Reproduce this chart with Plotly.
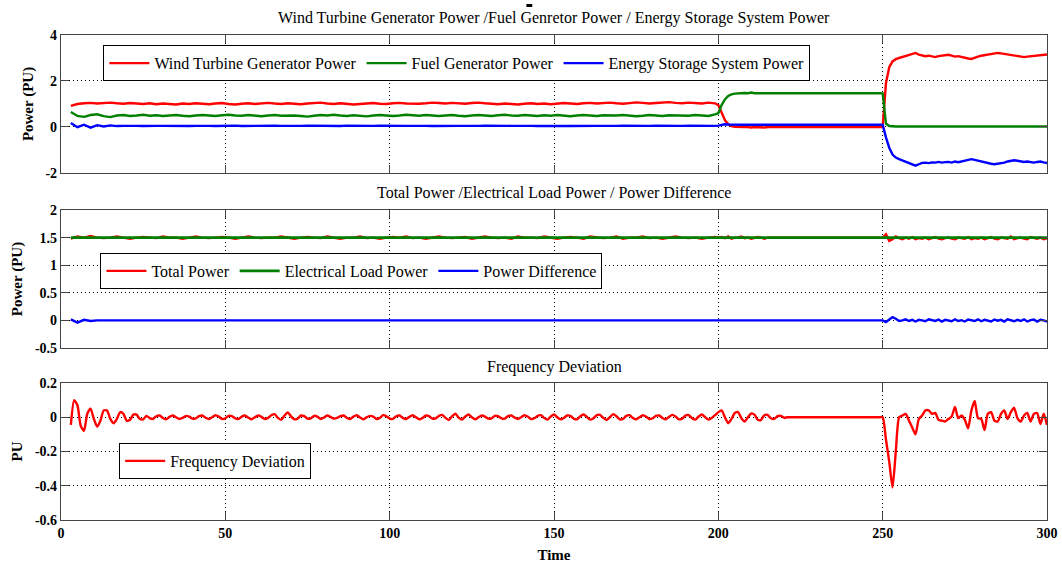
import plotly.graph_objects as go

# ---------------- data ----------------
time_power = list(range(3, 200, 2)) + list(range(200, 301))   # 99 + 101 samples
time_freq = list(range(3, 301))                                 # 298 samples

wind_a = [0.92, 1.0, 1.03, 1.05, 1.02, 1.04, 1.06, 1.03, 1.01, 1.04,
          1.02, 1.0, 1.03, 0.99, 1.02, 1.01, 0.98, 1.02, 1.0, 1.03,
          1.01, 0.99, 1.02, 1.04, 1.0, 0.98, 1.01, 1.03, 1.0, 1.02,
          1.05, 1.02, 1.0, 1.03, 1.01, 0.99, 1.02, 1.04, 1.06, 1.02,
          1.0, 1.03, 1.01, 0.98, 1.0, 1.02, 1.04, 1.01, 1.0, 1.03,
          1.05, 1.02, 1.0, 1.01, 1.03, 1.06, 1.04, 1.02, 1.05, 1.03,
          1.01, 1.04, 1.06, 1.03, 1.0, 0.99, 1.02, 1.0, 0.98, 1.01,
          1.03, 1.0, 1.02, 0.99, 1.01, 1.04, 1.02, 1.0, 1.03, 1.05,
          1.02, 1.04, 1.06, 1.03, 1.01, 1.04, 1.07, 1.05, 1.02, 1.04,
          1.06, 1.08, 1.05, 1.03, 1.06, 1.04, 1.02, 1.06, 1.03]
wind_b = ([0.95, 0.6, 0.3, 0.12, 0.04, 0.01]
          + [0.0, -0.02, 0.0, 0.0, -0.02, 0.0, -0.01, 0.0, -0.02, 0.0,
             0.0, -0.02, 0.0, 0.0, -0.02, 0.0, -0.01, 0.0, -0.02, 0.0]
          + [0.0] * 25)
wind_c = [1.9, 2.6, 2.85, 2.95, 3.0, 3.05, 3.1, 3.15, 3.2, 3.22,
          3.15, 3.12, 3.08, 3.1, 3.06, 3.04, 3.08, 3.1, 3.12, 3.14,
          3.1, 3.06, 3.08, 3.04, 3.0, 2.98, 2.96, 3.02, 3.06, 3.1,
          3.12, 3.16, 3.18, 3.2, 3.22, 3.2, 3.18, 3.16, 3.12, 3.1,
          3.08, 3.06, 3.04, 3.06, 3.08, 3.1, 3.12, 3.14, 3.16, 3.15]
wind_power = wind_a + wind_b + wind_c

fuel_a = [0.65, 0.48, 0.44, 0.52, 0.55, 0.47, 0.43, 0.5, 0.52, 0.48,
          0.5, 0.53, 0.49, 0.51, 0.48, 0.5, 0.52, 0.49, 0.47, 0.5,
          0.52, 0.5, 0.48, 0.51, 0.53, 0.5, 0.49, 0.52, 0.5, 0.47,
          0.5, 0.52, 0.49, 0.51, 0.5, 0.48, 0.45, 0.49, 0.52, 0.5,
          0.53, 0.5, 0.48, 0.51, 0.49, 0.46, 0.5, 0.52, 0.5, 0.48,
          0.5, 0.53, 0.51, 0.49, 0.52, 0.5, 0.48, 0.5, 0.52, 0.49,
          0.47, 0.5, 0.52, 0.5, 0.48, 0.51, 0.53, 0.5, 0.49, 0.52,
          0.5, 0.48, 0.51, 0.49, 0.52, 0.5, 0.47, 0.5, 0.52, 0.5,
          0.48, 0.51, 0.49, 0.5, 0.52, 0.5, 0.47, 0.49, 0.52, 0.5,
          0.48, 0.51, 0.5, 0.47, 0.49, 0.52, 0.5, 0.48, 0.55]
fuel_b = ([0.6, 0.95, 1.2, 1.35, 1.42, 1.45, 1.47]
          + [1.47, 1.48, 1.47, 1.5, 1.47, 1.47, 1.48, 1.47, 1.5, 1.47,
             1.48, 1.47, 1.47, 1.5, 1.47, 1.48, 1.47, 1.47, 1.5, 1.47,
             1.47, 1.48, 1.5, 1.47, 1.47, 1.48, 1.47, 1.5, 1.47, 1.47,
             1.48, 1.47, 1.5, 1.47, 1.47, 1.48, 1.47, 1.5, 1.47, 1.47,
             1.48, 1.47, 1.47, 1.46])
fuel_c = [0.15, 0.04] + [0.02] * 48
fuel_power = fuel_a + fuel_b + fuel_c

ess_a = ([0.17, -0.01, 0.1, -0.03, 0.08, 0.02, 0.07, 0.04, 0.05, 0.06]
         + [0.05, 0.04, 0.06, 0.05, 0.05, 0.04, 0.06, 0.05, 0.04, 0.05,
            0.06, 0.05, 0.04, 0.05, 0.05, 0.06, 0.04, 0.05, 0.05, 0.04,
            0.05, 0.06, 0.05, 0.04, 0.05, 0.05, 0.06, 0.05, 0.04, 0.05,
            0.05, 0.04, 0.06, 0.05, 0.05, 0.04, 0.05, 0.06, 0.05, 0.05,
            0.04, 0.05, 0.05, 0.06, 0.05, 0.04, 0.05, 0.05, 0.06, 0.05,
            0.05, 0.04, 0.05, 0.06, 0.05, 0.05, 0.04, 0.05, 0.05, 0.06,
            0.05, 0.04, 0.05, 0.05, 0.06, 0.05, 0.04, 0.05, 0.05, 0.06,
            0.05, 0.05, 0.04, 0.05, 0.06, 0.05, 0.05, 0.04, 0.05, 0.06,
            0.05, 0.05, 0.04, 0.05, 0.06, 0.05, 0.05, 0.04, 0.05])
ess_b = [0.06, 0.09, 0.12, 0.11, 0.1] + [0.1] * 46
ess_c = [-0.45, -0.9, -1.2, -1.33, -1.4, -1.45, -1.5, -1.58, -1.63, -1.68,
         -1.62, -1.56, -1.55, -1.57, -1.54, -1.55, -1.52, -1.55, -1.53, -1.52,
         -1.55, -1.5, -1.53, -1.5, -1.46, -1.44, -1.4, -1.43, -1.47, -1.5,
         -1.53, -1.56, -1.6, -1.62, -1.6, -1.57, -1.55, -1.5, -1.48, -1.45,
         -1.47, -1.5, -1.52, -1.5, -1.53, -1.55, -1.52, -1.5, -1.54, -1.57]
ess_power = ess_a + ess_b + ess_c

total_a = [1.48, 1.52, 1.5, 1.53, 1.5, 1.49, 1.5, 1.52, 1.5, 1.48,
           1.5, 1.51, 1.5, 1.49, 1.52, 1.5, 1.5, 1.48, 1.5, 1.52,
           1.5, 1.49, 1.5, 1.51, 1.5, 1.48, 1.5, 1.52, 1.5, 1.49,
           1.5, 1.5, 1.52, 1.5, 1.48, 1.5, 1.51, 1.5, 1.49, 1.52,
           1.5, 1.48, 1.5, 1.5, 1.52, 1.49, 1.5, 1.48, 1.5, 1.51,
           1.5, 1.52, 1.49, 1.5, 1.48, 1.5, 1.52, 1.5, 1.49, 1.5,
           1.51, 1.48, 1.5, 1.52, 1.5, 1.49, 1.5, 1.48, 1.52, 1.5,
           1.5, 1.49, 1.52, 1.5, 1.48, 1.5, 1.51, 1.5, 1.48, 1.52,
           1.5, 1.49, 1.5, 1.52, 1.48, 1.5, 1.5, 1.52, 1.49, 1.5,
           1.48, 1.5, 1.52, 1.5, 1.49, 1.5, 1.48, 1.5, 1.51]
total_b = ([1.5, 1.51, 1.49, 1.52, 1.48, 1.5, 1.5, 1.52, 1.49, 1.5,
            1.48, 1.5, 1.51, 1.5, 1.48, 1.5] + [1.5] * 35)
total_c = [1.56, 1.44, 1.47, 1.52, 1.49, 1.47, 1.5, 1.48, 1.51, 1.47,
           1.49, 1.48, 1.5, 1.47, 1.49, 1.51, 1.48, 1.47, 1.49, 1.5,
           1.48, 1.47, 1.5, 1.49, 1.48, 1.51, 1.47, 1.49, 1.48, 1.5,
           1.47, 1.49, 1.51, 1.48, 1.47, 1.5, 1.49, 1.48, 1.52, 1.47,
           1.49, 1.5, 1.48, 1.47, 1.51, 1.49, 1.48, 1.5, 1.47, 1.49]
total_power = total_a + total_b + total_c

load_power = [1.5] * 200

diff_a = ([0.02, -0.04, 0.01, -0.01, 0.0]
          + [0.0, 0.004, -0.003, 0.0, 0.005, -0.004, 0.002, 0.0, -0.005, 0.003,
             0.0, -0.003, 0.004, 0.0, -0.004, 0.005, 0.0, -0.002, 0.003, -0.005,
             0.0, 0.004, -0.003, 0.002, 0.0, -0.004, 0.005, 0.0, -0.003, 0.003,
             0.0, -0.005, 0.004, 0.0, 0.002, -0.003, 0.0, 0.005, -0.004, 0.0,
             0.003, -0.002, 0.0, 0.004, -0.005, 0.0, 0.003, -0.003, 0.0, 0.005,
             -0.004, 0.0, 0.002, -0.003, 0.004, 0.0, -0.005, 0.003, 0.0, -0.002,
             0.004, 0.0, -0.004, 0.005, 0.0, -0.003, 0.002, 0.0, 0.004, -0.005,
             0.0, 0.003, -0.003, 0.0, 0.005, -0.004, 0.0, 0.002, -0.003, 0.004,
             0.0, -0.005, 0.003, 0.0, -0.002, 0.004, 0.0, -0.004, 0.005, 0.0,
             -0.003, 0.002, 0.0, 0.004])
diff_b = [0.003, -0.004, 0.0, 0.005, -0.003, 0.0, 0.004, -0.005, 0.0, 0.002] + [0.0] * 41
diff_c = [-0.03, 0.02, 0.06, 0.03, -0.01, 0.0, 0.02, -0.01, 0.01, -0.02,
          0.01, 0.0, -0.015, 0.02, 0.0, -0.01, 0.015, -0.02, 0.01, 0.0,
          -0.015, 0.02, -0.01, 0.005, -0.02, 0.015, 0.0, -0.01, 0.02, -0.015,
          0.01, 0.0, -0.02, 0.015, -0.005, 0.01, -0.02, 0.02, 0.0, -0.015,
          0.01, -0.01, 0.02, -0.02, 0.005, 0.015, -0.02, 0.01, 0.0, -0.02]
power_difference = diff_a + diff_b + diff_c

freq_a = [-0.045, 0.1, 0.07, -0.05, -0.08, 0.02, 0.05, -0.01, -0.055, -0.02,
          0.04, 0.04, -0.01, -0.035, -0.01, 0.03, 0.02, -0.02, -0.015, 0.015,
          0.015, -0.01, -0.012]
freq_b = [0.008, -0.005, -0.01, 0.006, 0.01, -0.004, -0.012, 0.002, 0.01, 0.0,
          -0.01, -0.004, 0.008, 0.004, -0.008, -0.006, 0.006, 0.01, -0.003, -0.01,
          0.0, 0.012, 0.004, -0.01, -0.006, 0.008, 0.006, -0.006, -0.01, 0.004,
          0.01, -0.002, -0.012, 0.0, 0.01, 0.002, -0.01, -0.004, 0.012, 0.018,
          -0.004, -0.015, 0.01, 0.028, 0.005, -0.012, -0.008, 0.01, 0.006, -0.008,
          -0.006, 0.008, 0.004, -0.01, -0.002, 0.01, 0.002, -0.008, -0.004, 0.006,
          0.01, -0.004, -0.01, 0.004, 0.012, -0.002, -0.012, 0.0, 0.008, 0.004,
          -0.01, -0.004, 0.012, 0.006, -0.008, -0.01, 0.006, 0.01, -0.004, -0.01,
          0.002, 0.012, 0.0, -0.012, -0.004, 0.01, 0.006, -0.008, -0.006, 0.008,
          0.014, -0.004, -0.016, 0.006, 0.02, -0.002, -0.014, 0.004, 0.016, 0.0,
          -0.012, 0.0, 0.01, 0.004, -0.008, -0.006, 0.008, 0.006, -0.006, -0.008,
          0.006, 0.01, -0.002, -0.01, 0.0, 0.012, 0.004, -0.01, -0.006, 0.008,
          0.012, -0.004, -0.014, 0.004, 0.016, 0.0, -0.012, -0.004, 0.01, 0.008,
          -0.008, -0.012, 0.006, 0.016, 0.002, -0.014, -0.006, 0.012, 0.014, -0.004,
          -0.016, 0.0, 0.018, 0.006, -0.012, -0.01, 0.008, 0.012, -0.004, -0.012,
          0.0, 0.012, 0.004, -0.01, -0.006, 0.008, 0.01, -0.004, -0.012, 0.002,
          0.014, 0.004, -0.012, -0.008, 0.01, 0.012, -0.006, -0.014, 0.004, 0.016,
          0.0, -0.014, -0.004, 0.012]
freq_c = [0.03, 0.04, 0.0, -0.035, -0.01, 0.025, 0.03, -0.005, -0.025, 0.0,
          0.022, 0.015, -0.015, -0.015, 0.012, 0.014, -0.006, -0.01, 0.006, 0.008,
          -0.003, 0.0]
freq_flat = [0.0] * 29
freq_d = [-0.13, -0.26, -0.41, -0.2, 0.0, 0.01, 0.02, -0.02, -0.06, -0.1,
          -0.01, 0.01, 0.04, 0.04, 0.02, 0.025, -0.015, -0.02, -0.025, -0.01,
          0.005, 0.06, -0.005, 0.01, -0.015, -0.065, 0.04, 0.095, -0.005, -0.01,
          -0.075, 0.02, 0.03, -0.02, -0.025, 0.02, 0.04, -0.01, 0.03, 0.055,
          -0.005, -0.025, 0.01, 0.025, -0.025, 0.02, 0.025, -0.04, 0.02, -0.045]
frequency_deviation = freq_a + freq_b + freq_c + freq_flat + freq_d

for s in (wind_power, fuel_power, ess_power, total_power, load_power, power_difference):
    assert len(s) == len(time_power), len(s)
assert len(frequency_deviation) == len(time_freq), len(frequency_deviation)

x_ticks = [0, 50, 100, 150, 200, 250, 300]
x_tick_labels = ["0", "50", "100", "150", "200", "250", "300"]
y1_ticks = [-2, 0, 2, 4]
y1_tick_labels = ["-2", "0", "2", "4"]
y2_ticks = [-0.5, 0, 0.5, 1, 1.5, 2]
y2_tick_labels = ["-0.5", "0", "0.5", "1", "1.5", "2"]
y3_ticks = [-0.6, -0.4, -0.2, 0, 0.2]
y3_tick_labels = ["-0.6", "-0.4", "-0.2", "0", "0.2"]

titles = ["Wind Turbine Generator Power /Fuel Genretor Power / Energy Storage System Power",
          "Total Power /Electrical Load Power / Power Difference",
          "Frequency Deviation"]

# ---------------- figure ----------------
SERIF = "Liberation Serif"
RED, GREEN, BLUE = "#ff0000", "#008000", "#0000ff"
LW = 2.4

fig = go.Figure()
fig.add_trace(go.Scatter(x=time_power, y=wind_power, name="Wind Turbine Generator Power",
                         line=dict(color=RED, width=LW), xaxis="x", yaxis="y", legend="legend"))
fig.add_trace(go.Scatter(x=time_power, y=fuel_power, name="Fuel Generator Power",
                         line=dict(color=GREEN, width=LW), xaxis="x", yaxis="y", legend="legend"))
fig.add_trace(go.Scatter(x=time_power, y=ess_power, name="Energy Storage System Power",
                         line=dict(color=BLUE, width=LW), xaxis="x", yaxis="y", legend="legend"))

fig.add_trace(go.Scatter(x=time_power, y=total_power, name="Total Power",
                         line=dict(color=RED, width=LW), xaxis="x2", yaxis="y2", legend="legend2"))
fig.add_trace(go.Scatter(x=time_power, y=load_power, name="Electrical Load Power",
                         line=dict(color=GREEN, width=LW + 0.4), xaxis="x2", yaxis="y2", legend="legend2"))
fig.add_trace(go.Scatter(x=time_power, y=power_difference, name="Power Difference",
                         line=dict(color=BLUE, width=LW), xaxis="x2", yaxis="y2", legend="legend2"))

fig.add_trace(go.Scatter(x=time_freq, y=frequency_deviation, name="Frequency Deviation",
                         line=dict(color=RED, width=LW, shape="spline", smoothing=0.6),
                         xaxis="x3", yaxis="y3", legend="legend3"))

tickfont = dict(family=SERIF, size=14, color="black", weight="bold")
GRID_DASH = "1px,3px"
common_x = dict(range=[0, 300], tickvals=x_ticks, ticktext=x_tick_labels, automargin=False,
                showgrid=True, gridcolor="black", griddash=GRID_DASH, gridwidth=1,
                zeroline=False, showline=True, linecolor="#444", linewidth=1.2, mirror="ticks",
                ticks="inside", ticklen=8, tickcolor="#444", tickfont=tickfont)
common_y = dict(showgrid=True, gridcolor="black", griddash=GRID_DASH, gridwidth=1, automargin=False,
                zeroline=False, showline=True, linecolor="#444", linewidth=1.2, mirror="ticks",
                ticks="inside", ticklen=8, tickcolor="#444", tickfont=tickfont)

d1, d2, d3 = [0.7155, 1.0], [0.3546, 0.6392], [0.0, 0.2825]
ytitle_font = dict(family=SERIF, size=15, color="black", weight="bold")
title_font = dict(family=SERIF, size=16, color="black")

legend_common = dict(bgcolor="white", bordercolor="black", borderwidth=1,
                     font=dict(family=SERIF, size=16, color="black"),
                     orientation="h", xanchor="left", yanchor="top",
                     itemwidth=40, tracegroupgap=0)

fig.update_layout(
    width=1062, height=564,
    paper_bgcolor="white", plot_bgcolor="white",
    margin=dict(l=61, r=15, t=35, b=44),
    showlegend=True,
    xaxis=dict(common_x, anchor="y", domain=[0, 1], showticklabels=False),
    yaxis=dict(common_y, anchor="x", domain=d1, range=[-2, 4], tickvals=y1_ticks, ticktext=y1_tick_labels,
               title=dict(text="Power (PU)", font=ytitle_font, standoff=8)),
    xaxis2=dict(common_x, anchor="y2", domain=[0, 1], showticklabels=False),
    yaxis2=dict(common_y, anchor="x2", domain=d2, range=[-0.5, 2], tickvals=y2_ticks, ticktext=y2_tick_labels,
                title=dict(text="Power (PU)", font=ytitle_font, standoff=8)),
    xaxis3=dict(common_x, anchor="y3", domain=[0, 1],
                title=dict(text="Time", font=ytitle_font, standoff=9)),
    yaxis3=dict(common_y, anchor="x3", domain=d3, range=[-0.6, 0.2], tickvals=y3_ticks, ticktext=y3_tick_labels,
                title=dict(text="PU", font=ytitle_font, standoff=8)),
    legend=dict(legend_common, x=0.043, y=0.979),
    legend2=dict(legend_common, x=0.040, y=0.5505),
    legend3=dict(legend_common, x=0.059, y=0.1588),
    annotations=[
        dict(text=titles[0], x=0.5, y=1.035, xref="paper", yref="paper", showarrow=False,
             font=title_font, xanchor="center", yanchor="middle"),
        dict(text=titles[1], x=0.5, y=0.676, xref="paper", yref="paper", showarrow=False,
             font=title_font, xanchor="center", yanchor="middle"),
        dict(text=titles[2], x=0.5, y=0.3155, xref="paper", yref="paper", showarrow=False,
             font=title_font, xanchor="center", yanchor="middle"),
    ],
    shapes=[dict(type="rect", xref="paper", yref="paper", x0=0.472, x1=0.478, y0=1.0577, y1=1.0639,
                 fillcolor="black", line=dict(width=0))],
)

fig.write_html("out.html", config={"displayModeBar": False},
               post_script="document.body.style.margin='0';document.body.style.overflow='hidden';")
